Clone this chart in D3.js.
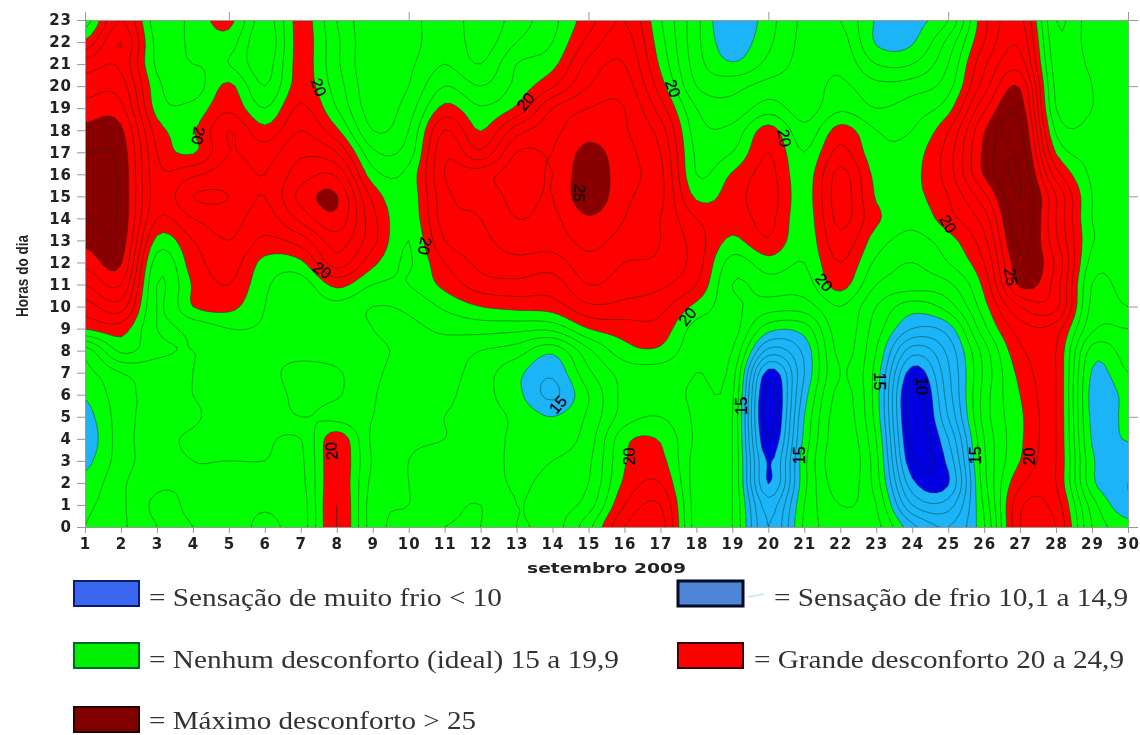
<!DOCTYPE html>
<html>
<head>
<meta charset="utf-8">
<script src="https://cdn.jsdelivr.net/npm/d3@7"></script>
<style>
  body { margin: 0; background: #fff; }
  svg { display: block; }
</style>
</head>
<body>
<div id="my_dataviz"></div>
<script>
// sensacao termica por dia: cada array vai da hora 0 a hora 23
var dia01 = [16,15.8,15.3,14.7,14.3,14.6,15.1,15.7,16.5,20.1,21.5,23,24.3,25.3,26,26.5,26.5,26,25.3,24.4,23.5,22.5,20.2,18.5];
var dia02 = [16.8,16.8,16.8,16.5,16.5,16.5,16.6,17,19.2,20.5,22.5,24,25.1,25.6,25.8,25.8,25.8,25.6,25.2,24.3,23.5,22.8,23,22];
var dia03 = [18,18.2,17.8,17.6,17.6,17.5,17.4,17.5,18.2,18,18,18,18.5,19.7,21,21.5,21.3,21,20.5,19.6,19.3,18.8,18.7,18.5];
var dia04 = [18,17.8,17.9,18,18.2,17.8,18,18,18,18.3,20,20.1,20.5,21,22,23,21.8,19.9,19.9,19.3,18.5,19,19.2,19.3];
var dia05 = [17,17.5,17.8,18,18.8,18.7,18.5,18.5,18.5,19,20.3,21,21.5,22,22.5,23,22.5,22,22,20.8,20.2,19,19.5,20.3];
var dia06 = [18.5,17.8,17.7,18,18.2,18.4,18.6,18.8,18.8,18.9,19,19.2,19.7,20.8,21.5,22,22,21.5,20.3,19,18,17.5,17.2,17.5];
var dia07 = [17.5,17.5,17.7,17.8,18,19,19.2,19.2,18.8,18.6,18.3,18.5,19.8,21.5,23.3,24.3,23.5,22.8,22,21.2,20.5,20.4,20.4,20.4];
var dia08 = [21,21,20.8,20.8,20.6,18.7,19.1,19.1,18.6,18.5,18.7,20.3,22.5,23.5,24.7,25.05,23.8,22,20.2,19,18.5,18.2,18.2,18];
var dia09 = [17.5,17.5,17.7,17.9,17.8,18,18.1,18.2,18.2,18,18,19,20.3,21.3,21.3,20.7,19.4,18.2,17,16.5,16.3,16.2,16.2,16.2];
var dia10 = [16.8,17,17,17,17.2,17.2,17.3,17.6,17.8,17.8,18.2,19,18.9,19,19.3,19.35,19.3,18.5,18,17.5,17,16.8,16.5,16.5];
var dia11 = [17,16.8,16.8,16.6,17,17,17.2,17.4,17.6,18.2,19.2,20.3,21,22,22.5,22.7,23,22.8,22,20.3,19,18,17.8,17.8];
var dia12 = [17,17,16.5,16.5,16.5,16.5,16.4,16.5,17,18.4,20,21.5,22.3,22.7,23,23.3,23.5,21.2,19.95,19.1,18,17,16.5,16.3];
var dia13 = [16,16,15.9,15.8,15.8,15.8,15.3,15.3,16.5,18.3,20.3,21.7,22.7,23.5,24,24.3,24.5,24,22.5,20.2,19.3,19,18,17.5];
var dia14 = [16.5,16.5,16.3,16,15.5,15,13.8,14.2,15.3,18.3,20.5,21.5,22.5,23.5,23.8,24,24,24,23.7,23,20.9,19.7,19,18.7];
var dia15 = [18.7,17.5,17,16.8,16.5,16.2,16,16.8,17.8,20,21.8,23,23.7,24.3,24.9,25.7,25.7,25.3,24.6,24,23,22.3,21.3,20.6];
var dia16 = [22,21,20.2,19.9,19.7,18.5,18.3,18.4,19.6,20.5,21.7,22.5,23,23.6,24,24.2,24.3,24.3,24.1,24,23.5,23,22.5,22];
var dia17 = [22.5,22,21,20.3,19.9,19,18.4,18.5,19.8,20.6,21.3,22.2,22.8,23,23,23.3,23.3,23,22.5,21.5,20.5,19.8,19.4,19.1];
var dia18 = [17.5,17.5,17.5,17.6,17.8,17.8,17.8,18,18.2,18.6,19.7,21,21.5,21.5,21,19.8,19,18.8,18.5,18,17,16.5,16.3,16.3];
var dia19 = [17,17,17,17,17,17,17.2,17.5,18,18.5,18.3,18,18.6,19.8,20.4,20.5,20.1,19,18.3,17.3,16.7,15.1,14.4,14];
var dia20 = [12,11.5,9.95,9.85,9,8.5,8.6,9.6,12.7,15.4,17.5,18.5,19.6,20.9,21.3,21.5,21.3,21,20.4,18.5,17.4,16.3,15.8,15.6];
var dia21 = [16.2,16,15.7,15.7,15.3,15,14.5,14,14.3,15.5,17.5,18.5,19,19.3,19.4,19.5,19.4,19,18.3,17.5,17.5,17.4,17.3,17.2];
var dia22 = [17.5,18,18.5,18.8,18.6,18.5,18.3,18,18.3,18.6,19,20.4,21,21.7,22.3,22.5,22.3,21.3,20.4,18.8,18.2,17.8,17.5,17];
var dia23 = [17.3,17,16.5,16.3,16,15.6,15.5,15.6,16,16.5,17,18,18.8,19.5,20.2,19.9,19.7,19.3,19,18,17.3,16,14.9,14.9];
var dia24 = [14.3,12,10.3,9.2,8.7,8.5,8.5,9.5,11.5,14,15.5,17.5,18,18.7,19.3,19.7,19.7,19.5,19,18.5,17.5,16,14.9,14.7];
var dia25 = [13,11.5,9.9,10.3,11,12,12.5,12.8,13.3,14.5,16.5,17.8,19,19.6,20.6,21,21.5,21.5,20.9,19.6,18.6,18,17.3,16];
var dia26 = [15.9,16.2,16.6,16.8,17,17.4,17.4,17.2,17.5,18.7,19.6,20.3,21,21.7,22.5,23.7,25.1,25.2,24.9,23.8,22.5,21.8,21,20.7];
var dia27 = [22,21.8,20.8,20,19.8,19.8,20,20.3,20.8,21.5,23,25.2,25.8,26.3,26.7,27,27,26.7,26.3,25.6,24.9,23.5,22.8,22.3];
var dia28 = [22,21.5,21,21,21,21,21,21,21,21.5,23.3,23.5,23.8,23.2,23,23,21.5,19.9,18.8,18,17.7,17.5,17.3,17];
var dia29 = [17,16.5,15.3,15.2,14.9,14.7,14.6,14.9,15.6,17.2,17.7,18,18.6,19.1,19,19,18.8,18.6,18.2,18,18,18.2,18.5,18.6];
var dia30 = [15.4,14.2,14,14.2,15.1,15.3,15.35,16,16.5,17,18,18.5,18.7,18.8,18.8,18.7,18.5,18.3,18,18.5,19,18.5,18.7,19];

var dias = [dia01,dia02,dia03,dia04,dia05,dia06,dia07,dia08,dia09,dia10,dia11,dia12,dia13,dia14,dia15,
            dia16,dia17,dia18,dia19,dia20,dia21,dia22,dia23,dia24,dia25,dia26,dia27,dia28,dia29,dia30];

// faixas de conforto
var faixas = [10, 15, 20, 25];
var coresFaixa = ["#1ab4f8", "#00ff00", "#ff0000", "#8a0000"];
var corBase = "#0000e0";
var isolinhas = d3.range(9, 28);

// rotulos das curvas
var rotuloDia = [4.15, 7.5, 13.25, 10.45, 7.6, 17.35, 20.45, 25.0, 21.55, 26.75, 14.75, 17.75, 7.85, 16.15, 27.25, 14.15, 19.25, 20.85, 23.1, 24.25, 25.75];
var rotuloHora = [17.75, 19.95, 19.3, 12.75, 11.65, 19.9, 17.65, 13.75, 11.1, 11.35, 15.15, 9.55, 3.45, 3.2, 3.2, 5.55, 5.5, 3.25, 6.6, 6.4, 3.25];
var rotuloTexto = ["20","20","20","20","20","20","20","20","20","25","25","20","20","20","20","15","15","15","15","10","15"];
var rotuloAngulo = [100,70,-50,100,35,70,80,60,50,80,95,-50,-95,-90,-90,-50,-90,-90,90,90,-90];

// legenda
var legendaTexto = ["= Sensação de muito frio < 10", "= Sensação de frio 10,1 a 14,9",
                    "= Nenhum desconforto (ideal) 15 a 19,9", "= Grande desconforto 20 a 24,9",
                    "= Máximo desconforto > 25"];
var legendaCor = ["#3a66f0", "#4f86d8", "#00f000", "#ff0000", "#800000"];
var legendaBorda = ["#0a1f6a", "#050a20", "#063", "#300", "#200"];
var legendaLargura = [2, 3, 2, 2, 2];
var legendaX = [74, 678, 74, 678, 74];
var legendaY = [581, 581, 643, 643, 707];
var legendaTextoX = [149, 774, 149, 754, 149];
var legendaBase = [606, 606, 668, 668, 728.5];
var legendaComprimento = [353, 354, 470, 370, 327];

var margin = { top: 20, right: 12, bottom: 208, left: 85 },
    width = 1140 - margin.left - margin.right,
    height = 735 - margin.top - margin.bottom;

var svg = d3.select("#my_dataviz")
    .append("svg")
    .attr("width", 1140)
    .attr("height", 735);

var defs = svg.append("defs");
defs.append("clipPath").attr("id", "plot-clip")
    .append("rect").attr("width", width).attr("height", height);
defs.append("filter").attr("id", "soft").attr("x", "-5%").attr("y", "-5%").attr("width", "110%").attr("height", "110%")
    .append("feGaussianBlur").attr("stdDeviation", 0.45);

var chart = svg.append("g")
    .attr("transform", "translate(" + margin.left + "," + margin.top + ")");

var x = d3.scaleLinear().domain([1, 30]).range([0, width]);
var y = d3.scaleLinear().domain([0, 23]).range([height, 0]);

// suaviza a grade so para desenhar as curvas (catmull-rom), os dados continuam horarios
var sub = 6;
var nx = dias.length, ny = dias[0].length;
var gw = (nx - 1) * sub + 1, gh = (ny - 1) * sub + 1;

function cr(a, b, c, d, t) {
    return 0.5 * (2 * b + (c - a) * t + (2 * a - 5 * b + 4 * c - d) * t * t + (3 * b - a - 3 * c + d) * t * t * t);
}
function valor(i, j) {
    i = Math.max(0, Math.min(nx - 1, i));
    j = Math.max(0, Math.min(ny - 1, j));
    return dias[i][j];
}
var grade = new Float64Array(gw * gh);
for (var gj = 0; gj < gh; gj++) {
    var j0 = Math.min(ny - 2, Math.floor(gj / sub)), tj = gj / sub - j0;
    for (var gi = 0; gi < gw; gi++) {
        var i0 = Math.min(nx - 2, Math.floor(gi / sub)), ti = gi / sub - i0;
        var col = [];
        for (var k = -1; k <= 2; k++) {
            col.push(cr(valor(i0 + k, j0 - 1), valor(i0 + k, j0), valor(i0 + k, j0 + 1), valor(i0 + k, j0 + 2), tj));
        }
        grade[gj * gw + gi] = cr(col[0], col[1], col[2], col[3], ti);
    }
}

var contours = d3.contours().size([gw, gh]).smooth(true);

var path = d3.geoPath(d3.geoTransform({
    point: function (gx, gy) {
        this.stream.point(x(1 + (gx - 0.5) / sub), y((gy - 0.5) / sub));
    }
}));

var plot = chart.append("g").attr("clip-path", "url(#plot-clip)").attr("filter", "url(#soft)");

plot.append("rect").attr("width", width).attr("height", height).attr("fill", corBase);

plot.selectAll("path.faixa")
    .data(contours.thresholds(faixas)(grade))
    .enter().append("path")
    .attr("class", "faixa")
    .attr("d", path)
    .attr("fill", function (d, i) { return coresFaixa[i]; });

plot.selectAll("path.curva")
    .data(contours.thresholds(isolinhas)(grade))
    .enter().append("path")
    .attr("class", "curva")
    .attr("d", path)
    .attr("fill", "none")
    .attr("stroke", "#063006")
    .attr("stroke-opacity", 0.58)
    .attr("stroke-width", 0.8);

// eixos
function estiloEixo(g) {
    g.select(".domain").attr("stroke", "#999");
    g.selectAll(".tick line").attr("stroke", "#999");
}
var fonteEixo = "'DejaVu Sans', sans-serif";

var eixoX = chart.append("g")
    .attr("transform", "translate(0," + height + ")")
    .attr("filter", "url(#soft)")
    .call(d3.axisBottom(x).tickValues(d3.range(1, 31)).tickFormat(d3.format("d")).tickSize(6).tickPadding(5));
var eixoY = chart.append("g")
    .attr("filter", "url(#soft)")
    .call(d3.axisLeft(y).tickValues(d3.range(0, 24)).tickFormat(d3.format("d")).tickSize(8).tickPadding(5));
chart.append("g")
    .call(d3.axisTop(x).tickValues(d3.range(5, 31, 5)).tickFormat("").tickSize(8))
    .call(estiloEixo);
chart.append("g")
    .attr("transform", "translate(" + width + ",0)")
    .call(d3.axisRight(y).tickValues(d3.range(5, 21, 5)).tickFormat("").tickSize(10))
    .call(estiloEixo);

[eixoX, eixoY].forEach(function (g) {
    g.call(estiloEixo);
    g.selectAll("text")
        .attr("fill", "#222")
        .style("font-family", fonteEixo)
        .style("font-size", "15px")
        .style("font-weight", "bold")
        .style("letter-spacing", "1px");
});

// rotulos das curvas
chart.append("g").attr("filter", "url(#soft)").selectAll("text.rotulo")
    .data(rotuloTexto)
    .enter().append("text")
    .attr("class", "rotulo")
    .attr("text-anchor", "middle")
    .attr("dy", ".35em")
    .attr("transform", function (d, i) {
        return "translate(" + x(rotuloDia[i]) + "," + y(rotuloHora[i]) + ") rotate(" + rotuloAngulo[i] + ")";
    })
    .attr("fill", function (d) { return d === "25" ? "#200000" : "#000"; })
    .attr("stroke", "#000")
    .attr("stroke-width", 0.3)
    .style("font-family", "'Liberation Sans', sans-serif")
    .style("font-size", "16px")
    .text(function (d) { return d; });

// titulos
var titulos = svg.append("g").attr("filter", "url(#soft)");
titulos.append("text")
    .attr("transform", "translate(22,276) rotate(-90)")
    .attr("text-anchor", "middle")
    .attr("dy", ".35em")
    .attr("textLength", 82)
    .attr("lengthAdjust", "spacingAndGlyphs")
    .attr("fill", "#222")
    .style("font-family", "'Liberation Sans', sans-serif")
    .style("font-size", "17px")
    .style("font-weight", "bold")
    .text("Horas do dia");

titulos.append("text")
    .attr("x", 527)
    .attr("y", 573)
    .attr("textLength", 159)
    .attr("lengthAdjust", "spacingAndGlyphs")
    .attr("fill", "#222")
    .style("font-family", fonteEixo)
    .style("font-size", "13.5px")
    .style("font-weight", "bold")
    .text("setembro 2009");

// legenda
var legenda = svg.append("g").attr("filter", "url(#soft)");
legendaTexto.forEach(function (d, i) {
    var item = legenda.append("g")
        .attr("transform", "translate(" + legendaX[i] + "," + legendaY[i] + ")");
    item.append("rect")
        .attr("width", 65)
        .attr("height", 25)
        .attr("fill", legendaCor[i])
        .attr("stroke", legendaBorda[i])
        .attr("stroke-width", legendaLargura[i]);
    legenda.append("text")
        .attr("x", legendaTextoX[i])
        .attr("y", legendaBase[i])
        .attr("textLength", legendaComprimento[i])
        .attr("lengthAdjust", "spacingAndGlyphs")
        .attr("fill", "#333")
        .style("font-family", "'Liberation Serif', serif")
        .style("font-size", "26px")
        .text(d);
});
// borrao claro ao lado da segunda caixa
legenda.append("line")
    .attr("x1", 748).attr("y1", 597).attr("x2", 764).attr("y2", 594)
    .attr("stroke", "#d6e8f0").attr("stroke-width", 2);
</script>
</body>
</html>
